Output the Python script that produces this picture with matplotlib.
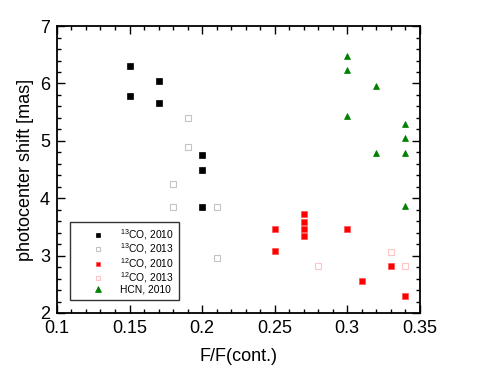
import matplotlib
matplotlib.use("Agg")
import matplotlib.pyplot as plt
from matplotlib.ticker import MultipleLocator

plt.rcParams['font.family'] = ['Liberation Sans', 'DejaVu Sans']
plt.rcParams['mathtext.default'] = 'regular'

# 13CO, 2010 (filled black squares)
co13_2010_x = [0.15, 0.15, 0.17, 0.17, 0.20, 0.20, 0.20]
co13_2010_y = [6.31, 5.79, 6.05, 5.66, 4.76, 4.49, 3.85]

# 13CO, 2013 (open grey squares)
co13_2013_x = [0.19, 0.19, 0.18, 0.18, 0.21, 0.21]
co13_2013_y = [5.40, 4.89, 4.24, 3.85, 3.85, 2.95]

# 12CO, 2010 (filled red squares)
co12_2010_x = [0.25, 0.25, 0.27, 0.27, 0.27, 0.27, 0.30, 0.31, 0.33, 0.34]
co12_2010_y = [3.46, 3.08, 3.72, 3.59, 3.46, 3.34, 3.46, 2.56, 2.82, 2.30]

# 12CO, 2013 (open pink squares)
co12_2013_x = [0.28, 0.33, 0.34]
co12_2013_y = [2.82, 3.07, 2.82]

# HCN, 2010 (green triangles)
hcn_x = [0.30, 0.30, 0.32, 0.30, 0.34, 0.34, 0.32, 0.34, 0.34]
hcn_y = [6.48, 6.23, 5.96, 5.44, 5.30, 5.05, 4.78, 4.78, 3.87]

xticks = [0.1, 0.15, 0.2, 0.25, 0.3, 0.35]
xticklabels = ['0.1', '0.15', '0.2', '0.25', '0.3', '0.35']
yticks = [2, 3, 4, 5, 6, 7]

fig = plt.figure(figsize=(4.91, 3.78), dpi=100)
ax = fig.add_axes([0.116, 0.172, 0.739, 0.759])

ax.plot(co13_2010_x, co13_2010_y, 's', ms=4.2, mfc='black', mec='black',
        mew=0.5, label=r'$^{13}$CO, 2010')
ax.plot(co13_2013_x, co13_2013_y, 's', ms=4.2, mfc='white', mec='#c4c4c4',
        mew=0.8, label=r'$^{13}$CO, 2013')
ax.plot(co12_2010_x, co12_2010_y, 's', ms=4.2, mfc='#ff0000', mec='#ff5050',
        mew=0.5, label=r'$^{12}$CO, 2010')
ax.plot(co12_2013_x, co12_2013_y, 's', ms=4.2, mfc='white', mec='#ffc4c4',
        mew=0.8, label=r'$^{12}$CO, 2013')
ax.plot(hcn_x, hcn_y, '^', ms=5, mfc='#008000', mec='#008000',
        mew=0.5, label='HCN, 2010')

ax.set_xlim(0.1, 0.35)
ax.set_ylim(2, 7)
ax.set_xticks(xticks)
ax.set_xticklabels(xticklabels)
ax.set_yticks(yticks)
ax.xaxis.set_minor_locator(MultipleLocator(0.01))
ax.yaxis.set_minor_locator(MultipleLocator(0.2))

ax.tick_params(which='both', direction='in', top=True, right=True,
               width=1, labelsize=13, colors='black')
ax.tick_params(which='major', length=6, pad=5)
ax.tick_params(which='minor', length=3)
for spine in ax.spines.values():
    spine.set_linewidth(1.3)

ax.set_xlabel('F/F(cont.)', fontsize=13, labelpad=8)
ax.set_ylabel('photocenter shift [mas]', fontsize=13, labelpad=4)

leg = ax.legend(loc='lower left', bbox_to_anchor=(0.036, 0.045),
                borderaxespad=0, fontsize=7.4,
                frameon=True, fancybox=False, edgecolor='black',
                handletextpad=-0.1, handlelength=4.4, borderpad=0.55,
                labelspacing=-0.05, markerscale=0.8)
leg.get_frame().set_linewidth(1.0)

fig.savefig('out.png', dpi=100)
